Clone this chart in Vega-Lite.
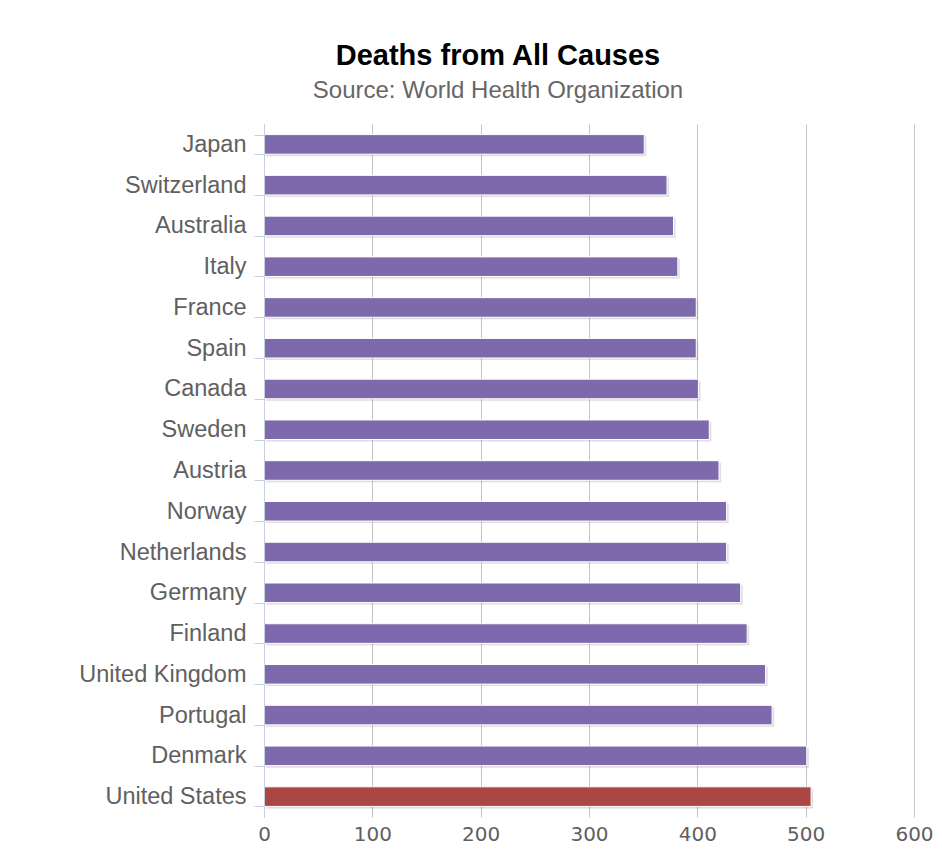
{
  "$schema": "https://vega.github.io/schema/vega-lite/v6.json",
  "autosize": "none",
  "width": 650,
  "height": 693,
  "padding": {"left": 264, "top": 124, "right": 28, "bottom": 33},
  "background": "white",
  "title": {
    "text": "Deaths from All Causes",
    "subtitle": "Source: World Health Organization",
    "anchor": "middle",
    "dx": -91,
    "font": "Liberation Sans",
    "fontSize": 29,
    "fontWeight": "bold",
    "color": "#000000",
    "subtitleFont": "Liberation Sans",
    "subtitleFontSize": 24,
    "subtitleColor": "#666666",
    "subtitlePadding": 8,
    "offset": 9
  },
  "data": {
    "values": [
      {"country": "Japan", "deaths": 351},
      {"country": "Switzerland", "deaths": 372},
      {"country": "Australia", "deaths": 378},
      {"country": "Italy", "deaths": 382},
      {"country": "France", "deaths": 399},
      {"country": "Spain", "deaths": 399},
      {"country": "Canada", "deaths": 401},
      {"country": "Sweden", "deaths": 411},
      {"country": "Austria", "deaths": 420},
      {"country": "Norway", "deaths": 427},
      {"country": "Netherlands", "deaths": 427},
      {"country": "Germany", "deaths": 440},
      {"country": "Finland", "deaths": 446},
      {"country": "United Kingdom", "deaths": 463},
      {"country": "Portugal", "deaths": 469},
      {"country": "Denmark", "deaths": 501},
      {"country": "United States", "deaths": 505}
    ]
  },
  "encoding": {
    "y": {
      "field": "country",
      "type": "nominal",
      "sort": null,
      "scale": {"paddingInner": 0.52, "paddingOuter": 0.26},
      "axis": {
        "title": null,
        "domainColor": "#c8cfe0",
        "tickColor": "#c8cfe0",
        "tickBand": "extent",
        "tickSize": 10,
        "labelPadding": 8,
        "labelFont": "Liberation Sans",
        "labelFontSize": 23.5,
        "labelColor": "#606060",
        "zindex": 1
      }
    },
    "x": {
      "field": "deaths",
      "type": "quantitative",
      "scale": {"domain": [0, 600], "nice": false},
      "axis": {
        "title": null,
        "values": [0, 100, 200, 300, 400, 500, 600],
        "grid": true,
        "gridColor": "#c4c4c4",
        "gridWidth": 1,
        "domain": false,
        "ticks": false,
        "labelFlush": false,
        "labelBound": false,
        "labelOverlap": false,
        "labelPadding": 7,
        "labelFont": "DejaVu Sans",
        "labelFontSize": 20,
        "labelColor": "#606060",
        "zindex": 0
      }
    }
  },
  "layer": [
    {
      "mark": {"type": "bar", "color": "#000000", "opacity": 0.12, "xOffset": 2, "yOffset": 2, "stroke": "#000000", "strokeOpacity": 0.05, "strokeWidth": 3}
    },
    {
      "mark": {"type": "bar", "stroke": "#ffffff", "strokeWidth": 1},
      "encoding": {
        "color": {
          "condition": {"test": "datum.country === 'United States'", "value": "#aa4643"},
          "value": "#7d69ab"
        }
      }
    }
  ],
  "config": {"view": {"stroke": null}}
}
